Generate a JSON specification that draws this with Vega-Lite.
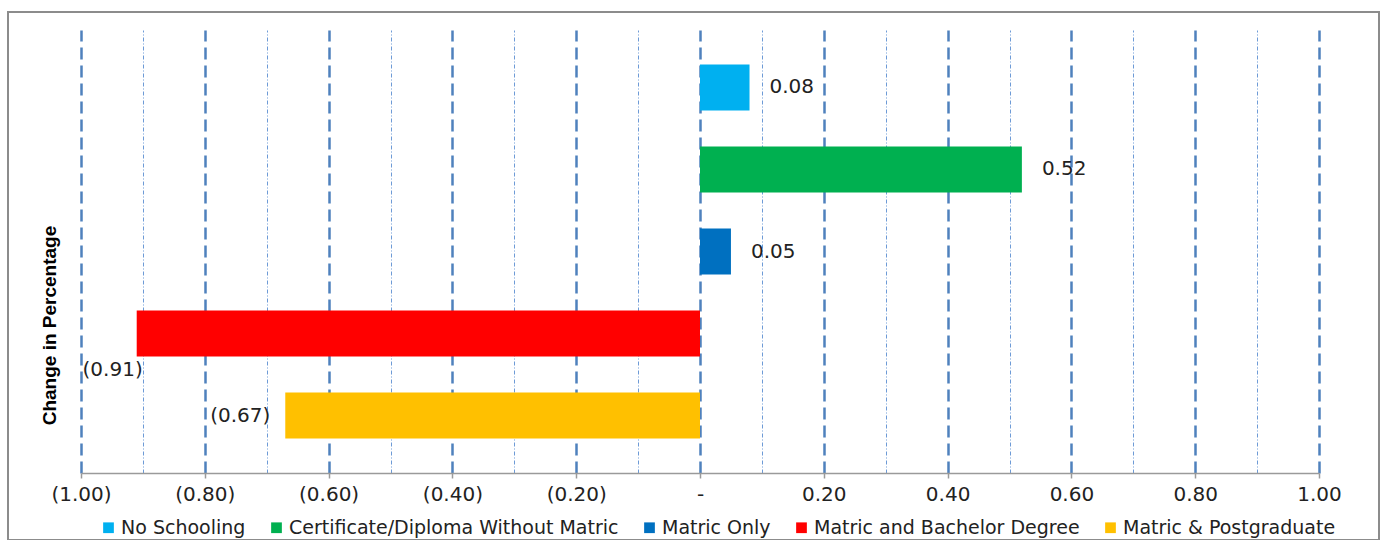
{
  "$schema": "https://vega.github.io/schema/vega-lite/v6.json",
  "width": 1371,
  "height": 528,
  "autosize": {"type": "none"},
  "padding": {"left": 8, "top": 12, "right": 9, "bottom": 0},
  "background": "white",
  "config": {
    "view": {"stroke": "#8c8c8c", "strokeWidth": 2},
    "font": "DejaVu Sans"
  },
  "data": {
    "values": [
      {"level": "No Schooling", "change": 0.08},
      {"level": "Certificate/Diploma Without Matric", "change": 0.52},
      {"level": "Matric Only", "change": 0.05},
      {"level": "Matric and Bachelor Degree", "change": -0.91},
      {"level": "Matric & Postgraduate", "change": -0.67}
    ]
  },
  "encoding": {
    "y": {
      "field": "level",
      "type": "nominal",
      "scale": {
        "domain": ["No Schooling", "Certificate/Diploma Without Matric", "Matric Only", "Matric and Bachelor Degree", "Matric & Postgraduate"],
        "range": [18, 461],
        "paddingInner": 0.44,
        "paddingOuter": 0.42,
        "round": false
      },
      "axis": {
        "orient": "left",
        "title": "Change in Percentage",
        "titleFont": "Liberation Sans, Arial, sans-serif",
        "titleFontWeight": "bold",
        "titleFontSize": 19,
        "titleColor": "#000000",
        "titleAngle": -90,
        "titleX": 41,
        "titleY": 313,
        "titleAlign": "center",
        "titleBaseline": "middle",
        "labels": false,
        "ticks": false,
        "domain": false,
        "grid": false
      }
    }
  },
  "layer": [
    {
      "mark": {"type": "bar"},
      "encoding": {
        "x": {
          "field": "change",
          "type": "quantitative",
          "stack": null,
          "scale": {"domain": [-1, 1], "range": [73, 1311], "nice": false, "zero": false},
          "axis": {
            "orient": "bottom",
            "offset": -67,
            "title": null,
            "grid": false,
            "values": [-1, -0.8, -0.6, -0.4, -0.2, 0, 0.2, 0.4, 0.6, 0.8, 1],
            "labelExpr": "datum.value == 0 ? '-' : format(datum.value, '(.2f')",
            "labelFontSize": 20,
            "labelColor": "#222222",
            "labelPadding": 6,
            "labelOverlap": false,
            "labelFlush": false,
            "domainColor": "#9a9a9a",
            "domainWidth": 1.5,
            "tickColor": "#9a9a9a",
            "tickWidth": 1.5,
            "tickSize": 5,
            "zindex": 1
          }
        },
        "color": {
          "field": "level",
          "type": "nominal",
          "scale": {
            "domain": ["No Schooling", "Certificate/Diploma Without Matric", "Matric Only", "Matric and Bachelor Degree", "Matric & Postgraduate"],
            "range": ["#00b0f0", "#00b050", "#0070c0", "#ff0000", "#ffc000"]
          },
          "legend": {
            "orient": "none",
            "legendX": 91,
            "legendY": 506,
            "direction": "horizontal",
            "title": null,
            "symbolType": "square",
            "symbolSize": 115,
            "symbolStrokeWidth": 0,
            "labelFont": "DejaVu Sans",
            "labelFontSize": 19,
            "labelColor": "#222222",
            "labelLimit": 0,
            "labelOffset": 3,
            "columnPadding": 21
          }
        }
      }
    },
    {
      "transform": [{"filter": "datum.change > 0"}],
      "mark": {"type": "text", "align": "left", "baseline": "middle", "dx": 20, "fontSize": 20, "color": "#222222"},
      "encoding": {
        "x": {
          "field": "change",
          "type": "quantitative",
          "axis": {
            "orient": "bottom",
            "offset": -67,
            "title": null,
            "grid": false,
            "domain": false,
            "labels": false,
            "values": [-1, -0.8, -0.6, -0.4, -0.2, 0, 0.2, 0.4, 0.6, 0.8, 1],
            "tickSize": -443,
            "tickColor": "#4f81bd",
            "tickWidth": 2.5,
            "tickDash": [12, 6],
            "zindex": 0
          }
        },
        "text": {"field": "change", "type": "quantitative", "format": "(.2f"}
      }
    },
    {
      "transform": [{"filter": "datum.level == 'Matric & Postgraduate'"}],
      "mark": {"type": "text", "align": "right", "baseline": "middle", "dx": -15, "fontSize": 20, "color": "#222222"},
      "encoding": {
        "x": {
          "field": "change",
          "type": "quantitative",
          "axis": {
            "orient": "bottom",
            "offset": -67,
            "title": null,
            "grid": false,
            "domain": false,
            "labels": false,
            "values": [-0.9, -0.7, -0.5, -0.3, -0.1, 0.1, 0.3, 0.5, 0.7, 0.9],
            "tickSize": -443,
            "tickColor": "#6d9ad6",
            "tickWidth": 1,
            "tickDash": [4, 2, 1, 2],
            "zindex": 0
          }
        },
        "text": {"field": "change", "type": "quantitative", "format": "(.2f"}
      }
    },
    {
      "transform": [{"filter": "datum.level == 'Matric and Bachelor Degree'"}],
      "mark": {"type": "text", "align": "right", "baseline": "middle", "dx": 6, "dy": 36, "fontSize": 20, "color": "#222222"},
      "encoding": {
        "x": {"field": "change", "type": "quantitative", "axis": null},
        "text": {"field": "change", "type": "quantitative", "format": "(.2f"}
      }
    }
  ],
  "resolve": {"axis": {"x": "independent"}}
}
